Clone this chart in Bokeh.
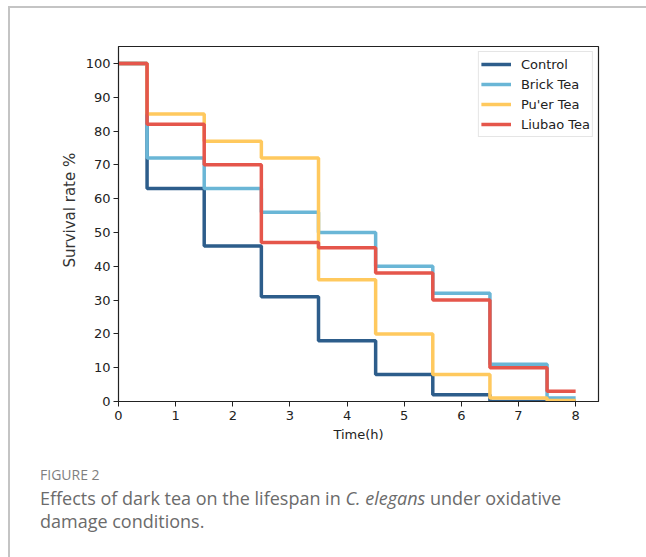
from bokeh.plotting import figure
from bokeh.layouts import column
from bokeh.models import Legend, LegendItem, FixedTicker, Range1d, Div, Title
from bokeh.embed import file_html
from bokeh.resources import INLINE

# ---- data ----
times = [0, 0.5, 1.5, 2.5, 3.5, 4.5, 5.5, 6.5, 7.5, 8]
control = [100, 63, 46, 31, 18, 8, 2, 0, 0, 0]
brick = [100, 72, 63, 56, 50, 40, 32, 11, 1, 1]
puer = [100, 85, 77, 72, 36, 20, 8, 1, 0.3, 0.3]
liubao = [100, 82, 70, 47, 45.5, 38, 30, 10, 3, 3]
series_names = ["Control", "Brick Tea", "Pu'er Tea", "Liubao Tea"]
series_vals = [control, brick, puer, liubao]
colors = ["#2D5D8B", "#6AB6D6", "#FFC95E", "#E5564B"]
x_ticks = [0, 1, 2, 3, 4, 5, 6, 7, 8]
y_ticks = [0, 10, 20, 30, 40, 50, 60, 70, 80, 90, 100]
x_label = "Time(h)"
y_label = "Survival rate %"
caption_label = "FIGURE 2"
caption_line1 = "Effects of dark tea on the lifespan in "
caption_species = "C. elegans"
caption_line1_end = " under oxidative"
caption_line2 = "damage conditions."

FONT = "DejaVu Sans"
CAP_FONT = "Open Sans"

p = figure(width=636, height=450, output_backend="svg", toolbar_location=None,
           x_range=Range1d(0, 8.4), y_range=Range1d(0, 105),
           min_border_left=108, min_border_right=48, min_border_top=38,
           min_border_bottom=57)
p.grid.visible = False
p.outline_line_color = "#222222"
p.outline_line_width = 1.2
p.background_fill_color = "white"
p.border_fill_color = "white"

renderers = []
for name, vals, c in zip(series_names, series_vals, colors):
    r = p.step(times, vals, mode="after", line_color=c, line_width=3.5)
    renderers.append((name, r))

legend = Legend(items=[LegendItem(label=n, renderers=[r]) for n, r in renderers],
                location="top_right", label_text_font=FONT, label_text_font_size="13px",
                label_text_color="#222222", glyph_width=30, glyph_height=20,
                label_height=20, spacing=0, padding=2, margin=5, label_standoff=10,
                border_line_color="#cccccc", border_line_width=1,
                background_fill_alpha=0.85)
p.add_layout(legend)

for ax in (p.xaxis[0], p.yaxis[0]):
    ax.axis_line_color = "#222222"
    ax.major_tick_line_color = "#222222"
    ax.major_tick_out = 5
    ax.major_tick_in = 0
    ax.minor_tick_line_color = None
    ax.major_label_text_font = FONT
    ax.major_label_text_font_size = "13px"
    ax.major_label_text_color = "#222222"
    ax.axis_label_text_font = FONT
    ax.axis_label_text_font_size = "13px"
    ax.axis_label_text_font_style = "normal"
    ax.axis_label_text_color = "#222222"

p.xaxis.ticker = FixedTicker(ticks=x_ticks)
p.yaxis.ticker = FixedTicker(ticks=y_ticks)
p.xaxis.axis_label = x_label
p.xaxis.major_label_standoff = 4
p.yaxis.major_label_standoff = 3
p.xaxis.axis_label_standoff = 4

# y-axis title, placed a little above the frame centre as in the reference
ytitle = Title(text=y_label, align="left", offset=134, standoff=8,
               text_font=FONT, text_font_size="15px", text_font_style="normal",
               text_color="#333333")
p.add_layout(ytitle, "left")

# ---- caption ----
cap_html = (
    f'<div style="padding:7px 0 0 30px; font-family:\'{CAP_FONT}\', sans-serif; '
    f'color:#6b6b6b;">'
    f'<div style="font-size:14px; line-height:20px; color:#7f7f7f;">{caption_label}</div>'
    f'<div style="font-size:18px; line-height:23px; margin-top:2px;">'
    f'<span>{caption_line1}</span><i>{caption_species}</i><span>{caption_line1_end}</span></div>'
    f'<div style="font-size:18px; line-height:23px;">{caption_line2}</div></div>'
)
cap = Div(text=cap_html, width=636, height=99, margin=0)

layout = column(p, cap, spacing=0,
                styles={"margin-left": "8px", "margin-top": "6px",
                        "border-left": "2px solid #c4c4c4",
                        "border-top": "2px solid #c4c4c4"})

open("out.html", "w").write(file_html(layout, INLINE))
